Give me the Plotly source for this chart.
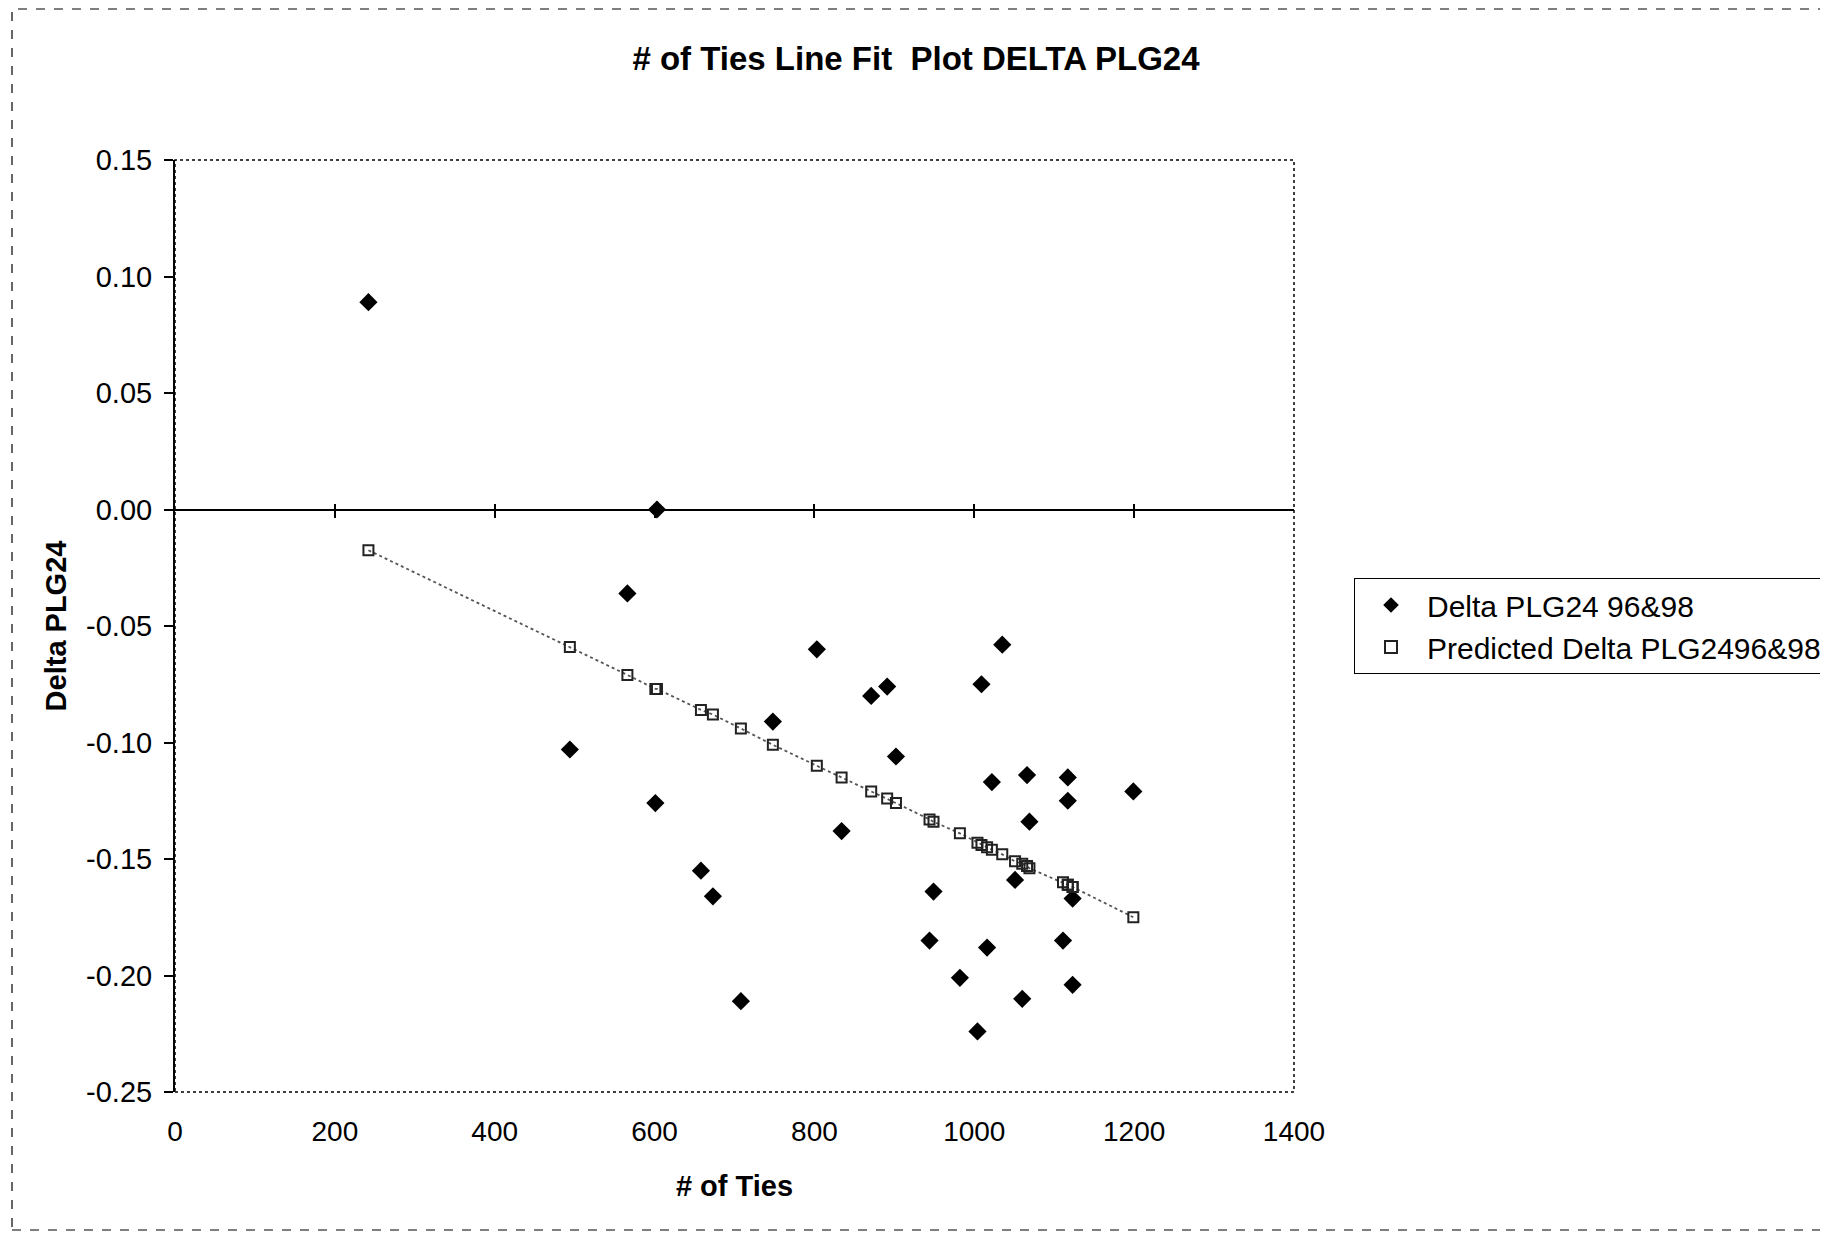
import plotly.graph_objects as go

# ---- data ----
ties = [242, 603, 566, 494, 601, 658, 673, 708, 748, 803, 834, 871, 891, 902,
        944, 949, 982, 1004, 1009, 1016, 1022, 1035, 1051, 1060, 1066, 1069,
        1111, 1117, 1117, 1123, 1123, 1199]
delta_plg24 = [0.089, 0.000, -0.036, -0.103, -0.126, -0.155, -0.166, -0.211,
               -0.091, -0.060, -0.138, -0.080, -0.076, -0.106, -0.185, -0.164,
               -0.201, -0.224, -0.075, -0.188, -0.117, -0.058, -0.159, -0.210,
               -0.114, -0.134, -0.185, -0.115, -0.125, -0.167, -0.204, -0.121]
predicted = [-0.0175, -0.077, -0.071, -0.059, -0.077, -0.086, -0.088, -0.094,
             -0.101, -0.110, -0.115, -0.121, -0.124, -0.126, -0.133, -0.134,
             -0.139, -0.143, -0.144, -0.145, -0.146, -0.148, -0.151, -0.152,
             -0.153, -0.154, -0.160, -0.161, -0.161, -0.162, -0.162, -0.175]

y_tickvals = [0.15, 0.10, 0.05, 0.00, -0.05, -0.10, -0.15, -0.20, -0.25]
y_ticktext = ["0.15", "0.10", "0.05", "0.00", "-0.05", "-0.10", "-0.15", "-0.20", "-0.25"]
x_tickvals = [0, 200, 400, 600, 800, 1000, 1200, 1400]
zero_ticks = [200, 400, 600, 800, 1000, 1200]

title_text = "# of Ties Line Fit  Plot DELTA PLG24"
series1_name = "Delta PLG24 96&98"
series2_name = "Predicted Delta PLG2496&98"

FONT = "Arial, Liberation Sans, sans-serif"

pairs = sorted(zip(ties, predicted))
px_sorted = [p[0] for p in pairs]
py_sorted = [p[1] for p in pairs]

fig = go.Figure()
fig.add_trace(go.Scatter(
    x=ties, y=delta_plg24, mode="markers", name=series1_name,
    marker=dict(symbol="diamond", size=14, color="black"),
))
# fitted line (no legend entry)
fig.add_trace(go.Scatter(
    x=px_sorted, y=py_sorted, mode="lines", showlegend=False, hoverinfo="skip",
    line=dict(color="#555555", width=1.8, dash="dot"),
))
fig.add_trace(go.Scatter(
    x=ties, y=predicted, mode="markers", name=series2_name,
    marker=dict(symbol="square-open", size=10, color="#222222", line=dict(width=2)),
))
# invisible traces to render the axis drawn through y = 0
for ax in ("x2", "x3"):
    fig.add_trace(go.Scatter(
        x=[0], y=[0], xaxis=ax, mode="markers", marker=dict(opacity=0),
        showlegend=False, hoverinfo="skip",
    ))

OFF = 8  # page body margin
W, H = 1828 - OFF, 1234 - OFF
L, T = 175 - OFF, 160 - OFF
R = W - (1294 - OFF)
B = H - (1092 - OFF)
pw, ph = W - L - R, H - T - B


def px(X):
    return (X - OFF - L) / pw


def py(Y):
    return (H - B - (Y - OFF)) / ph


zero_pos = (0 - (-0.25)) / (0.15 - (-0.25))

zero_axis = dict(
    overlaying="x", anchor="free", position=zero_pos, range=[0, 1400],
    tickvals=zero_ticks, showticklabels=False, ticklen=7,
    tickwidth=1.5, tickcolor="black",
    showline=True, linecolor="black", linewidth=2, showgrid=False, zeroline=False,
)

fig.update_layout(
    width=W, height=H,
    margin=dict(l=L, r=R, t=T, b=B, autoexpand=False),
    paper_bgcolor="white", plot_bgcolor="white",
    font=dict(family=FONT, color="black", size=27),
    title=dict(text="<b>" + title_text + "</b>", x=(916 - OFF) / W, xref="container",
               xanchor="center", y=1 - (58 - OFF) / H, yanchor="middle",
               font=dict(size=33, family=FONT)),
    xaxis=dict(
        range=[0, 1400], tickvals=x_tickvals, showgrid=False, zeroline=False,
        showline=False, ticks="", tickfont=dict(size=28),
        ticklabelstandoff=20,
        title=dict(text="<b># of Ties</b>", font=dict(size=29), standoff=29),
    ),
    xaxis2=dict(zero_axis, ticks="outside"),
    xaxis3=dict(zero_axis, ticks="inside", ticklen=5),
    yaxis=dict(
        range=[-0.25, 0.15], tickvals=y_tickvals, ticktext=y_ticktext,
        showgrid=False, zeroline=False, showline=True, linecolor="black",
        linewidth=2, ticks="outside", ticklen=9, tickwidth=1.5, tickcolor="black",
        tickfont=dict(size=29), ticklabelstandoff=6,
        title=dict(text="<b>Delta PLG24</b>", font=dict(size=29), standoff=11),
    ),
    legend=dict(
        x=px(1354), y=py(626), xanchor="left", yanchor="middle",
        bgcolor="white", bordercolor="black", borderwidth=1,
        font=dict(size=30), tracegroupgap=0, itemsizing="constant", itemwidth=62,
    ),
    shapes=[
        dict(type="rect", xref="paper", yref="paper", x0=0, x1=1, y0=0, y1=1,
             line=dict(color="black", width=1.5, dash="dot"), layer="below"),
        dict(type="rect", xref="paper", yref="paper",
             x0=px(12), x1=px(1830), y0=py(1230), y1=py(9),
             line=dict(color="black", width=1.2, dash="dash")),
    ],
)

fig.write_html("out.html")
